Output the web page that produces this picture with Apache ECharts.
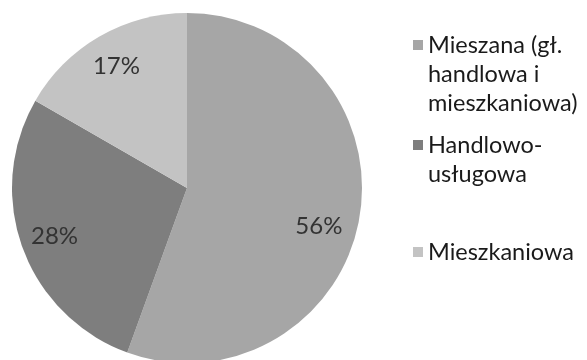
<!DOCTYPE html>
<html>
<head>
<meta charset="utf-8">
<script src="https://cdn.jsdelivr.net/npm/echarts@6/dist/echarts.min.js"></script>
<style>
html,body{margin:0;padding:0;background:#fff;}
#c{width:587px;height:360px;}
</style>
</head>
<body>
<div id="c"></div>
<script>
const categories = ['Mieszana (gł. handlowa i mieszkaniowa)', 'Handlowo-usługowa', 'Mieszkaniowa'];
const legendLines = [['Mieszana (gł.', 'handlowa i', 'mieszkaniowa)'], ['Handlowo-', 'usługowa'], ['Mieszkaniowa']];
const values = [55.6, 27.8, 16.7];
const colors = ['#a6a6a6', '#7e7e7e', '#c3c3c3'];

const FONT = 'Lato';
const LH = 29;
const legendIconY = [45, 145, 252];

const chart = echarts.init(document.getElementById('c'), null, {renderer: 'canvas'});

const data = categories.map((n, i) => ({name: n, value: values[i], itemStyle: {color: colors[i]}}));

const legends = categories.map((n, i) => {
  const nl = legendLines[i].length;
  // blank lines above so that the first text line sits level with the icon
  const blanks = '\n'.repeat(nl - 1);
  const boxH = (2 * nl - 1) * LH;
  return {
    data: [n],
    left: 413,
    top: legendIconY[i] - boxH / 2,
    orient: 'vertical',
    padding: 0,
    itemWidth: 10,
    itemHeight: 10,
    itemGap: 0,
    icon: 'rect',
    selectedMode: false,
    formatter: () => blanks + legendLines[i].join('\n'),
    textStyle: {
      fontFamily: FONT,
      fontSize: 23.5,
      lineHeight: LH,
      color: '#1a1a1a'
    }
  };
});

chart.setOption({
  backgroundColor: '#ffffff',
  animation: false,
  legend: legends,
  series: [
    {
      type: 'pie',
      center: [187, 188],
      radius: [0, 175],
      startAngle: 90,
      clockwise: true,
      data: data,
      label: {show: false},
      labelLine: {show: false},
      itemStyle: {borderWidth: 0},
      emphasis: {disabled: true}
    },
    {
      type: 'pie',
      center: [187, 188],
      radius: [101, 175],
      startAngle: 90,
      clockwise: true,
      silent: true,
      data: categories.map((n, i) => ({
        name: n, value: values[i],
        label: i === 0 ? {offset: [-7, 14]} : {}
      })),
      itemStyle: {color: 'rgba(0,0,0,0)', borderWidth: 0},
      label: {
        show: true,
        position: 'inside',
        formatter: p => Math.round(p.percent) + '%',
        fontFamily: FONT,
        fontSize: 24,
        color: '#333333'
      },
      labelLine: {show: false},
      emphasis: {disabled: true}
    }
  ]
});
</script>
</body>
</html>
